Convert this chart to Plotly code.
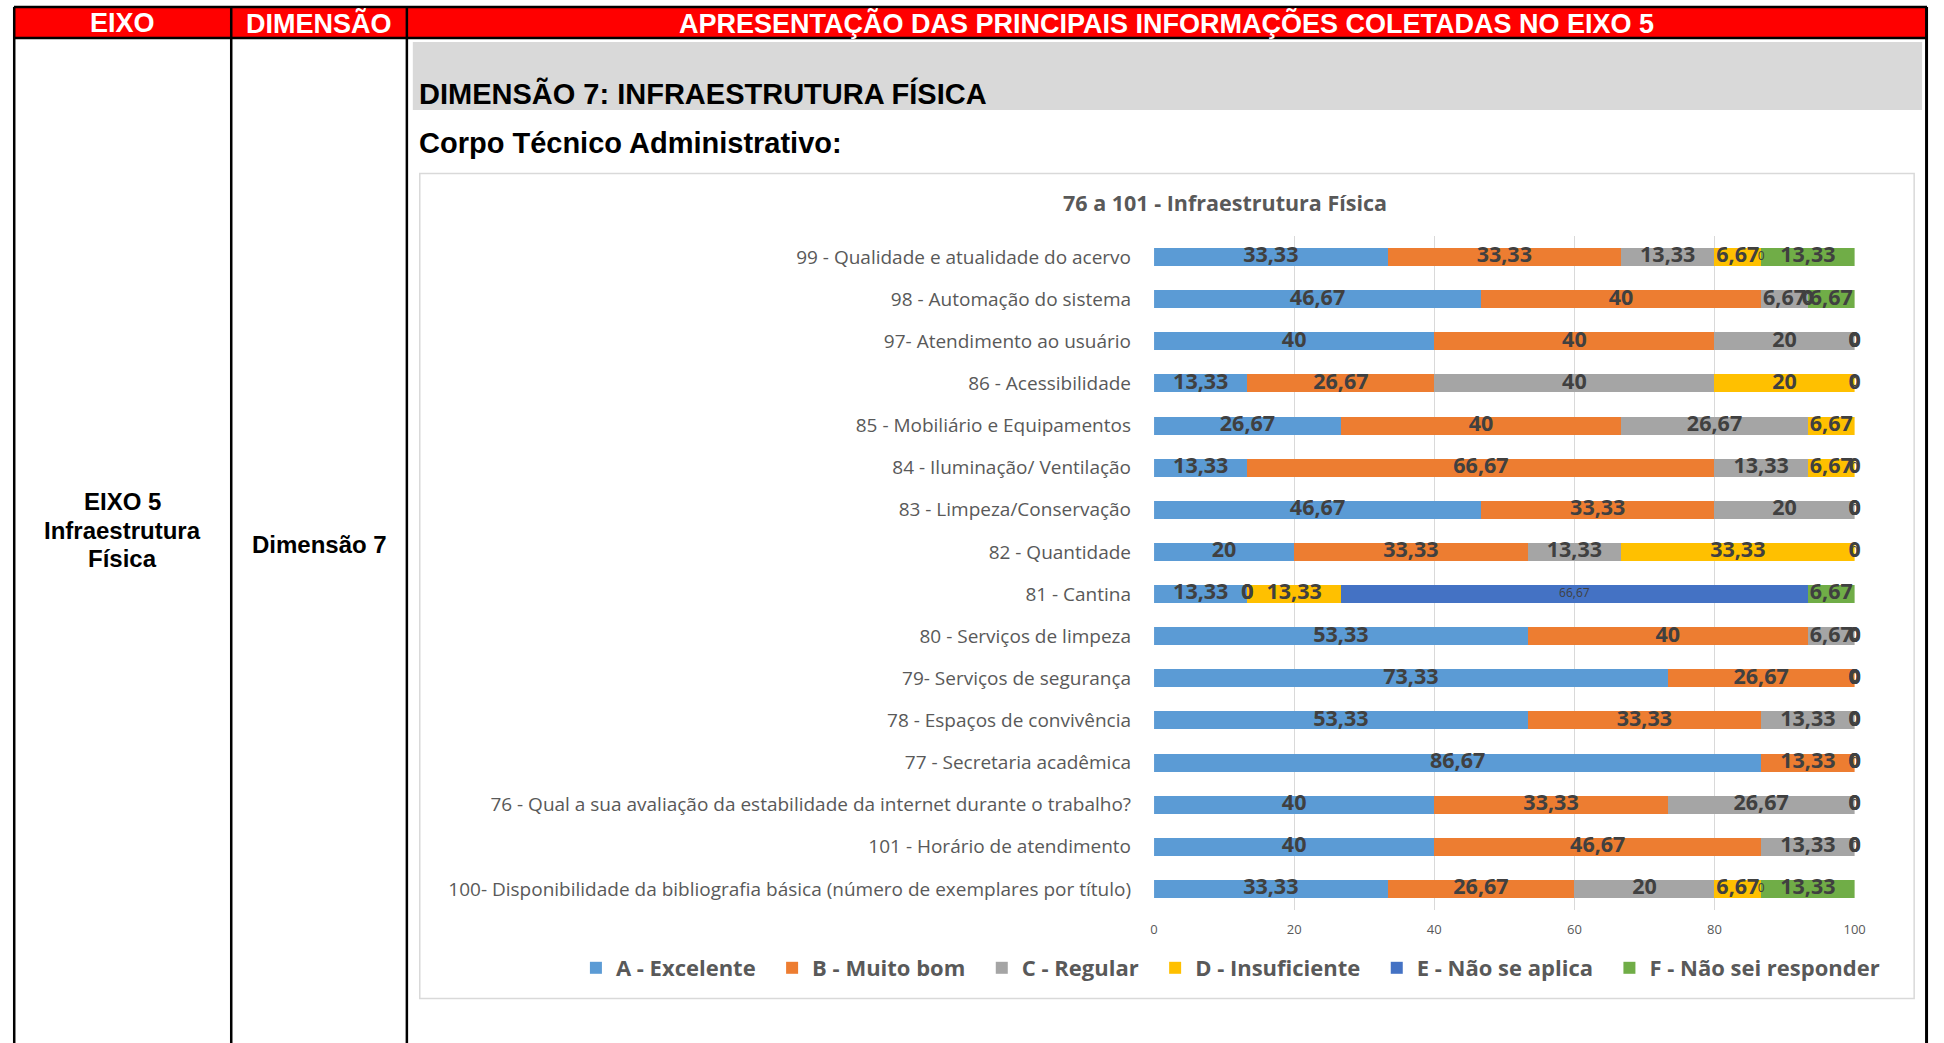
import plotly.graph_objects as go

# ---------------- data ----------------
categories = [
    "99 - Qualidade e atualidade do acervo",
    "98 - Automação do sistema",
    "97- Atendimento ao usuário",
    "86 - Acessibilidade",
    "85 - Mobiliário e Equipamentos",
    "84 - Iluminação/ Ventilação",
    "83 - Limpeza/Conservação",
    "82 - Quantidade",
    "81 - Cantina",
    "80 - Serviços de limpeza",
    "79- Serviços de segurança",
    "78 - Espaços de convivência",
    "77 - Secretaria acadêmica",
    "76 - Qual a sua avaliação da estabilidade da internet durante o trabalho?",
    "101 - Horário de atendimento",
    "100- Disponibilidade da bibliografia básica (número de exemplares por título)",
]

series_names = ["A - Excelente", "B - Muito bom", "C - Regular",
                "D - Insuficiente", "E - Não se aplica", "F - Não sei responder"]

a_excelente = [33.33, 46.67, 40, 13.33, 26.67, 13.33, 46.67, 20, 13.33, 53.33, 73.33, 53.33, 86.67, 40, 40, 33.33]
b_muito_bom = [33.33, 40, 40, 26.67, 40, 66.67, 33.33, 33.33, 0, 40, 26.67, 33.33, 13.33, 33.33, 46.67, 26.67]
c_regular = [13.33, 6.67, 20, 40, 26.67, 13.33, 20, 13.33, 0, 6.67, 0, 13.33, 0, 26.67, 13.33, 20]
d_insuficiente = [6.67, 0, 0, 20, 6.67, 6.67, 0, 33.33, 13.33, 0, 0, 0, 0, 0, 0, 6.67]
e_nao_se_aplica = [0, 0, 0, 0, 0, 0, 0, 0, 66.67, 0, 0, 0, 0, 0, 0, 0]
f_nao_sei = [13.33, 6.67, 0, 0, 0, 0, 0, 0, 6.67, 0, 0, 0, 0, 0, 0, 13.33]

x_ticks = [0, 20, 40, 60, 80, 100]

series_values = [a_excelente, b_muito_bom, c_regular, d_insuficiente, e_nao_se_aplica, f_nao_sei]
series_colors = ["#5B9BD5", "#ED7D31", "#A5A5A5", "#FFC000", "#4472C4", "#70AD47"]

# ---------------- page geometry helpers ----------------
W, H = 1944, 1043


def X(px):
    return px / W


def Y(py):
    return 1 - py / H


def fmt(v):
    s = ("%.2f" % v).rstrip("0").rstrip(".")
    return s.replace(".", ",")


CHART_FONT = "Open Sans"
TABLE_FONT = "Liberation Sans, Arial"
LEGEND_PAD = "\u00a0\u00a0"

fig = go.Figure()

# stacked bars
for name, vals, col in zip(series_names, series_values, series_colors):
    fig.add_trace(go.Bar(
        y=categories, x=vals, name=name + LEGEND_PAD, orientation="h",
        marker=dict(color=col, line=dict(width=0)),
        hoverinfo="x+name",
    ))

# data labels (placed at the middle of each stacked segment)
cum = [0.0] * len(categories)
for idx, vals in enumerate(series_values):
    centers = [c + v / 2 for c, v in zip(cum, vals)]
    small = series_names[idx].startswith("E")
    fig.add_trace(go.Scatter(
        y=categories, x=centers, mode="text",
        text=[fmt(v) for v in vals],
        textposition="middle center",
        textfont=dict(family=CHART_FONT, size=12 if small else 21.5,
                      color="#404040", weight="normal" if small else "bold"),
        showlegend=False, hoverinfo="skip", cliponaxis=False,
    ))
    cum = [c + v for c, v in zip(cum, vals)]

shapes = []
# chart area box
shapes.append(dict(type="rect", xref="paper", yref="paper", layer="below",
                   x0=X(419), x1=X(1925), y0=Y(998.5), y1=Y(173.5),
                   line=dict(color="#D9D9D9", width=1.5), fillcolor="white"))
# grey heading band
shapes.append(dict(type="rect", xref="paper", yref="paper", layer="below",
                   x0=X(412), x1=X(1933), y0=Y(110), y1=Y(42),
                   line=dict(width=0), fillcolor="#D9D9D9"))
# red header band
shapes.append(dict(type="rect", xref="paper", yref="paper", layer="below",
                   x0=X(10), x1=X(1937.5), y0=Y(38), y1=Y(7),
                   line=dict(width=0), fillcolor="#FF0000"))
# table lines
for (x0, y0, x1, y1, w) in [
    (10, 7, 1938, 7, 2.5),
    (10, 38, 1938, 38, 2.5),
    (10.3, 7, 10.3, 1043, 2.5),
    (229, 7, 229, 1043, 2.5),
    (406, 7, 406, 1043, 2.5),
    (1937.5, 7, 1937.5, 1043, 3),
]:
    shapes.append(dict(type="line", xref="paper", yref="paper", layer="below",
                       x0=X(x0), x1=X(x1), y0=Y(y0), y1=Y(y1),
                       line=dict(color="black", width=w)))

annotations = []


def ann(text, x, y, size, color="black", xanchor="center", family=TABLE_FONT, weight="bold"):
    annotations.append(dict(text=text, x=X(x), y=Y(y), xref="paper", yref="paper",
                            xanchor=xanchor, yanchor="middle", showarrow=False,
                            font=dict(family=family, size=size, color=color, weight=weight)))


ann("EIXO", 119.5, 23, 27, "white")
ann("DIMENSÃO", 317.5, 23, 27, "white")
ann("APRESENTAÇÃO DAS PRINCIPAIS INFORMAÇÕES COLETADAS NO EIXO 5", 1172, 23, 27, "white")
ann("EIXO 5", 119.5, 502, 24)
ann("Infraestrutura", 119.5, 530, 24)
ann("Física", 119.5, 558, 24)
ann("Dimensão 7", 317.5, 544, 24)
ann("DIMENSÃO 7: INFRAESTRUTURA FÍSICA", 416, 93, 29, xanchor="left")
ann("Corpo Técnico Administrativo:", 416, 143, 29, xanchor="left")
ann("76 a 101 - Infraestrutura Física", 1230, 202, 21.5, "#595959", family=CHART_FONT)

fig.update_layout(
    width=W, height=H, autosize=False,
    margin=dict(l=0, r=0, t=0, b=0, pad=0),
    paper_bgcolor="white", plot_bgcolor="rgba(0,0,0,0)",
    barmode="stack", bargap=0.57,
    shapes=shapes, annotations=annotations,
    showlegend=True,
    legend=dict(orientation="h", x=X(1242), xanchor="center", y=Y(968), yanchor="middle",
                font=dict(family=CHART_FONT, size=22, color="#595959", weight="bold"),
                bgcolor="rgba(0,0,0,0)", traceorder="normal", itemwidth=30),
    xaxis=dict(domain=[X(1159), X(1865)], range=[0, 100], tickvals=x_ticks,
               showgrid=True, gridcolor="#D9D9D9", gridwidth=1, zeroline=False,
               showline=False, ticks="", ticklabelstandoff=10,
               tickfont=dict(family=CHART_FONT, size=13, color="#595959"), fixedrange=True),
    yaxis=dict(domain=[Y(910), Y(236)], type="category", categoryorder="array",
               categoryarray=categories, range=[len(categories) - 0.5, -0.5],
               autorange=False, showgrid=False,
               zeroline=False, showline=False, ticks="", ticklabelstandoff=22,
               tickfont=dict(family=CHART_FONT, size=19, color="#595959"), fixedrange=True),
    font=dict(family=CHART_FONT),
)

# remove the default page margin so the 1944x1043 figure fills the window exactly
post = """
document.documentElement.style.overflow='hidden';
document.body.style.margin='0';
document.body.style.overflow='hidden';
"""

fig.write_html("out.html", config={"displayModeBar": False}, post_script=post)
